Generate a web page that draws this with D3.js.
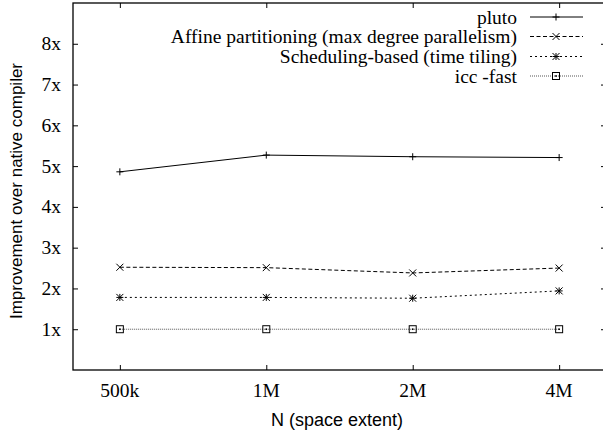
<!DOCTYPE html>
<html>
<head>
<meta charset="utf-8">
<script src="https://cdn.jsdelivr.net/npm/d3@7"></script>
<style>
body { margin: 0; background: #fff; }
svg text { fill: #000; }
.tick-label { font-family: "Liberation Serif", "Times New Roman", serif; font-size: 19.5px; }
.axis-title { font-family: "Liberation Sans", Arial, sans-serif; }
</style>
</head>
<body>
<div id="chart"></div>
<script>
var svgWidth = 603;
var svgHeight = 435;

// data
var sizes = ["500k", "1M", "2M", "4M"];
var yTicks = [1, 2, 3, 4, 5, 6, 7, 8];
var seriesNames = ["pluto", "Affine partitioning (max degree parallelism)", "Scheduling-based (time tiling)", "icc -fast"];
var plutoVals = [4.86, 5.27, 5.23, 5.21];
var affineVals = [2.52, 2.51, 2.38, 2.50];
var schedVals = [1.78, 1.78, 1.76, 1.94];
var iccVals = [1.0, 1.0, 1.0, 1.0];

var plot = { left: 73, right: 606, top: 3, bottom: 370 };

var svg = d3.select("#chart")
    .append("svg")
    .attr("width", svgWidth)
    .attr("height", svgHeight);

var xScale = d3.scaleLinear()
    .domain([-0.32, 3.32])
    .range([plot.left, plot.right]);
var yScale = d3.scaleLinear()
    .domain([0, 9])
    .range([plot.bottom, plot.top]);

// frame
svg.append("rect")
    .attr("x", plot.left)
    .attr("y", plot.top)
    .attr("width", plot.right - plot.left)
    .attr("height", plot.bottom - plot.top)
    .attr("fill", "none")
    .attr("stroke", "#000")
    .attr("stroke-width", 1.3);

// y ticks (left + mirrored right)
var yAxisL = d3.axisLeft(yScale).tickValues(yTicks).tickSize(-5).tickFormat("");
var yAxisR = d3.axisRight(yScale).tickValues(yTicks).tickSize(-5).tickFormat("");
svg.append("g").attr("transform", `translate(${plot.left},0)`).call(yAxisL);
svg.append("g").attr("transform", `translate(${plot.right},0)`).call(yAxisR);

var idx = sizes.map((d, i) => i);
var xAxisB = d3.axisBottom(xScale).tickValues(idx).tickSize(-5).tickFormat("");
var xAxisT = d3.axisTop(xScale).tickValues(idx).tickSize(-5).tickFormat("");
svg.append("g").attr("transform", `translate(0,${plot.bottom})`).call(xAxisB);
svg.append("g").attr("transform", `translate(0,${plot.top})`).call(xAxisT);
svg.selectAll(".domain").remove();
svg.selectAll(".tick line").attr("stroke", "#000");

// tick labels
svg.selectAll(".ylab")
    .data(yTicks)
    .enter()
    .append("text")
    .attr("class", "tick-label")
    .attr("x", 61)
    .attr("y", d => yScale(d) + 6.5)
    .attr("text-anchor", "end")
    .text(d => d + "x");

svg.selectAll(".xlab")
    .data(sizes)
    .enter()
    .append("text")
    .attr("class", "tick-label")
    .attr("x", (d, i) => xScale(i))
    .attr("y", 397)
    .attr("text-anchor", "middle")
    .text(d => d);

// axis titles
svg.append("text")
    .attr("class", "axis-title")
    .attr("x", 337)
    .attr("y", 426)
    .attr("font-size", "18px")
    .attr("text-anchor", "middle")
    .text("N (space extent)");

svg.append("text")
    .attr("class", "axis-title")
    .attr("transform", "translate(22,191) rotate(-90)")
    .attr("font-size", "17px")
    .attr("text-anchor", "middle")
    .text("Improvement over native compiler");

// series styles
var styles = [
    { vals: plutoVals, dash: null, color: "#000", marker: "plus" },
    { vals: affineVals, dash: "4,2.5", color: "#000", marker: "cross" },
    { vals: schedVals, dash: "2,3", color: "#000", marker: "star" },
    { vals: iccVals, dash: "1,1", color: "#555", marker: "box" }
];

function drawMarker(g, kind, x, y) {
    var s = 3.5;
    var m = g.append("g").attr("transform", `translate(${x},${y})`)
        .attr("stroke", "#000").attr("stroke-width", 1).attr("fill", "none");
    if (kind === "plus" || kind === "star") {
        m.append("line").attr("x1", -s).attr("x2", s).attr("y1", 0).attr("y2", 0);
        m.append("line").attr("x1", 0).attr("x2", 0).attr("y1", -s).attr("y2", s);
    }
    if (kind === "cross" || kind === "star") {
        m.append("line").attr("x1", -s).attr("x2", s).attr("y1", -s).attr("y2", s);
        m.append("line").attr("x1", -s).attr("x2", s).attr("y1", s).attr("y2", -s);
    }
    if (kind === "box") {
        m.append("rect").attr("x", -s).attr("y", -s).attr("width", 2 * s).attr("height", 2 * s);
        m.append("rect").attr("x", -0.8).attr("y", -0.8).attr("width", 1.6).attr("height", 1.6)
            .attr("fill", "#000").attr("stroke", "none");
    }
}

var line = d3.line()
    .x((d, i) => xScale(i))
    .y(d => yScale(d));

styles.forEach(function (st) {
    svg.append("path")
        .datum(st.vals)
        .attr("d", line)
        .attr("fill", "none")
        .attr("stroke", st.color)
        .attr("stroke-width", 1)
        .attr("stroke-dasharray", st.dash);
    st.vals.forEach(function (v, i) {
        drawMarker(svg, st.marker, xScale(i), yScale(v));
    });
});

// legend
var legendY = [17, 36.5, 56.5, 76];
seriesNames.forEach(function (name, i) {
    var y = legendY[i];
    svg.append("text")
        .attr("class", "tick-label")
        .attr("x", 517)
        .attr("y", y + 6.5)
        .attr("text-anchor", "end")
        .text(name);
    svg.append("line")
        .attr("x1", 530).attr("x2", 583)
        .attr("y1", y).attr("y2", y)
        .attr("stroke", styles[i].color)
        .attr("stroke-width", 1)
        .attr("stroke-dasharray", styles[i].dash);
    drawMarker(svg, styles[i].marker, 556, y);
});
</script>
</body>
</html>
